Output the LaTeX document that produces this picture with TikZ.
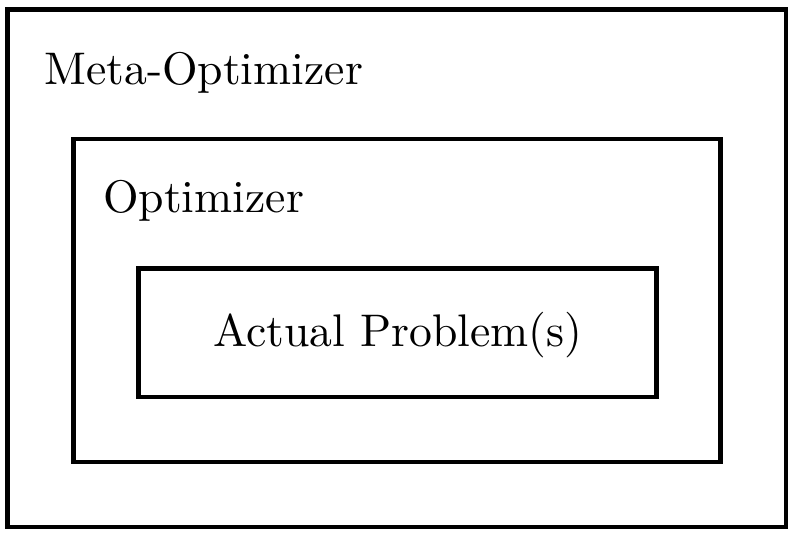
\documentclass[tikz,border=0pt]{standalone}
\usepackage{fontspec}
\setmainfont{lmroman10-regular}[Extension=.otf]
\begin{document}
\begin{tikzpicture}[x=1pt,y=-1pt,
  frame/.style={draw=black, line width=4.8pt, rectangle, inner sep=0pt, miter limit=10},
  lbl/.style={anchor=base west, inner sep=0pt, font=\fontsize{45.7}{55}\selectfont}]
\useasboundingbox (0,0) rectangle (796,537);
\node[frame, minimum width=778.5pt, minimum height=517.5pt] (outer) at (396.75,268.25) {};
\node[frame, minimum width=647pt, minimum height=323pt] (middle) at (397,300.5) {};
\node[frame, minimum width=518pt, minimum height=128.5pt] (inner) at (397.5,332.75) {};
\node[lbl] (meta) at (44,85) {Meta-Optimizer};
\node[lbl] (opt) at (103,213) {Optimizer};
\node[lbl] (prob) at (213,347) {Actual Problem(s)};
\end{tikzpicture}
\end{document}
